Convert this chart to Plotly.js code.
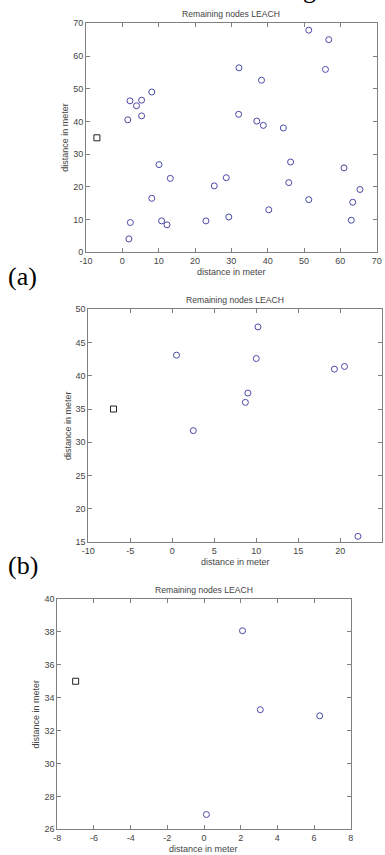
<!DOCTYPE html>
<html>
<head>
<meta charset="utf-8">
<script src="https://cdn.plot.ly/plotly-3.0.1.min.js"></script>
<style>html,body{margin:0;padding:0;background:#fff;}#chart{width:385px;height:855px;}</style>
</head>
<body>
<div id="chart"></div>
<script>
// Base station (square)
const sinkX = [-7];
const sinkY = [35];

// (a) remaining nodes
const aX = [51.3, 56.8, 55.9, 32.1, 38.3, 8.1, 2.1, 5.3, 3.9, 5.3, 1.5, 32.0, 37.0, 38.8, 44.3, 46.3, 45.8, 61.0, 65.4, 63.4, 63.0, 51.3, 40.3, 29.3, 23.0, 25.3, 28.6, 13.2, 10.1, 8.1, 10.8, 12.3, 2.2, 1.8];
const aY = [67.9, 65.0, 55.9, 56.4, 52.6, 49.0, 46.3, 46.5, 44.8, 41.7, 40.5, 42.2, 40.1, 38.8, 38.0, 27.6, 21.3, 25.8, 19.2, 15.3, 9.8, 16.1, 13.0, 10.8, 9.6, 20.3, 22.8, 22.6, 26.8, 16.5, 9.6, 8.4, 9.1, 4.1];

// (b) remaining nodes
const bX = [0.5, 10.2, 10.0, 9.0, 8.7, 2.5, 19.3, 20.5, 22.1];
const bY = [43.1, 47.35, 42.6, 37.4, 36.0, 31.75, 41.0, 41.4, 15.85];

// (c) remaining nodes
const cX = [2.1, 3.07, 6.31, 0.13];
const cY = [38.07, 33.27, 32.9, 26.9];

// tick values per panel
const aXTicks = [-10, 0, 10, 20, 30, 40, 50, 60, 70];
const aYTicks = [0, 10, 20, 30, 40, 50, 60, 70];
const bXTicks = [-10, -5, 0, 5, 10, 15, 20, 25];
const bYTicks = [15, 20, 25, 30, 35, 40, 45, 50];
const cXTicks = [-8, -6, -4, -2, 0, 2, 4, 6, 8];
const cYTicks = [26, 28, 30, 32, 34, 36, 38, 40];

const titleText = "Remaining nodes LEACH";
const xTitle = "distance in meter";
const yTitle = "distance in meter";
const panelLabels = ["(a)", "(b)"];

const W = 385, H = 855;
const FONT = "'Liberation Sans', Arial, sans-serif";
const SERIF = "'Liberation Serif', 'Times New Roman', serif";
const FRAME = "#808080";
const TXT = "#444";
const NODE = "#4a4aa6";

// panel boxes in pixels: [left, right, top, bottom]
const boxes = [
  [86, 376.7, 23.3, 252.3],
  [88.3, 382.3, 309.3, 542],
  [57.3, 350.7, 599, 829.3]
];
const tickSets = [[aXTicks, aYTicks], [bXTicks, bYTicks], [cXTicks, cYTicks]];

function px(x) { return x / W; }
function py(y) { return 1 - y / H; }
function lbl(v) { return String(v); } // plain hyphen-minus like the original

const layout = {
  width: W, height: H, autosize: false,
  margin: {l: 0, r: 0, t: 0, b: 0, pad: 0},
  paper_bgcolor: "#fff", plot_bgcolor: "#fff",
  showlegend: false,
  font: {family: FONT, size: 9, color: TXT},
  annotations: []
};

const traces = [];
const sets = [[aX, aY], [bX, bY], [cX, cY]];

boxes.forEach((b, i) => {
  const n = i === 0 ? "" : String(i + 1);
  const tx = tickSets[i][0], ty = tickSets[i][1];
  const common = {
    showline: true, linecolor: FRAME, linewidth: 1, mirror: "ticks",
    ticks: "inside", ticklen: 4, tickwidth: 1, tickcolor: FRAME,
    showgrid: false, zeroline: false, fixedrange: true,
    tickmode: "array",
    tickfont: {family: FONT, size: 9, color: TXT}
  };
  layout["xaxis" + n] = Object.assign({}, common, {
    domain: [px(b[0]), px(b[1])], range: [tx[0], tx[tx.length - 1]],
    tickvals: tx, ticktext: tx.map(lbl), anchor: "y" + n
  });
  layout["yaxis" + n] = Object.assign({}, common, {
    domain: [py(b[3]), py(b[2])], range: [ty[0], ty[ty.length - 1]],
    tickvals: ty, ticktext: ty.map(lbl), anchor: "x" + n
  });
  traces.push({
    x: sets[i][0], y: sets[i][1], xaxis: "x" + n, yaxis: "y" + n,
    type: "scatter", mode: "markers", cliponaxis: false,
    marker: {symbol: "circle-open", size: 6, color: NODE, line: {width: 1, color: NODE}}
  });
  traces.push({
    x: sinkX, y: sinkY, xaxis: "x" + n, yaxis: "y" + n,
    type: "scatter", mode: "markers", cliponaxis: false,
    marker: {symbol: "square-open", size: 6, color: "#222", line: {width: 1, color: "#222"}}
  });
  const cx = (b[0] + b[1]) / 2, cy = (b[2] + b[3]) / 2;
  layout.annotations.push({
    text: titleText, xref: "paper", yref: "paper", x: px(cx), y: py(b[2] - 9),
    xanchor: "center", yanchor: "middle", showarrow: false,
    font: {family: FONT, size: 8.6, color: TXT}
  });
  layout.annotations.push({
    text: xTitle, xref: "paper", yref: "paper", x: px(cx), y: py(b[3] + 20),
    xanchor: "center", yanchor: "middle", showarrow: false,
    font: {family: FONT, size: 9, color: TXT}
  });
  layout.annotations.push({
    text: yTitle, xref: "paper", yref: "paper", x: px(b[0] - 21), y: py(cy),
    xanchor: "center", yanchor: "middle", showarrow: false, textangle: -90,
    font: {family: FONT, size: 9, color: TXT}
  });
});

// panel labels (a), (b)
layout.annotations.push({
  text: panelLabels[0], xref: "paper", yref: "paper", x: px(22), y: py(276),
  xanchor: "center", yanchor: "middle", showarrow: false,
  font: {family: SERIF, size: 26, color: "#000"}
});
layout.annotations.push({
  text: panelLabels[1], xref: "paper", yref: "paper", x: px(23), y: py(565),
  xanchor: "center", yanchor: "middle", showarrow: false,
  font: {family: SERIF, size: 26, color: "#000"}
});
// descender of a caption letter cut off at the top edge (as in the source)
layout.annotations.push({
  text: "g", xref: "paper", yref: "paper", x: px(309), y: py(-11),
  xanchor: "center", yanchor: "middle", showarrow: false,
  font: {family: SERIF, size: 26, color: "#000"}
});

Plotly.newPlot("chart", traces, layout, {staticPlot: true, displayModeBar: false});
</script>
</body>
</html>
